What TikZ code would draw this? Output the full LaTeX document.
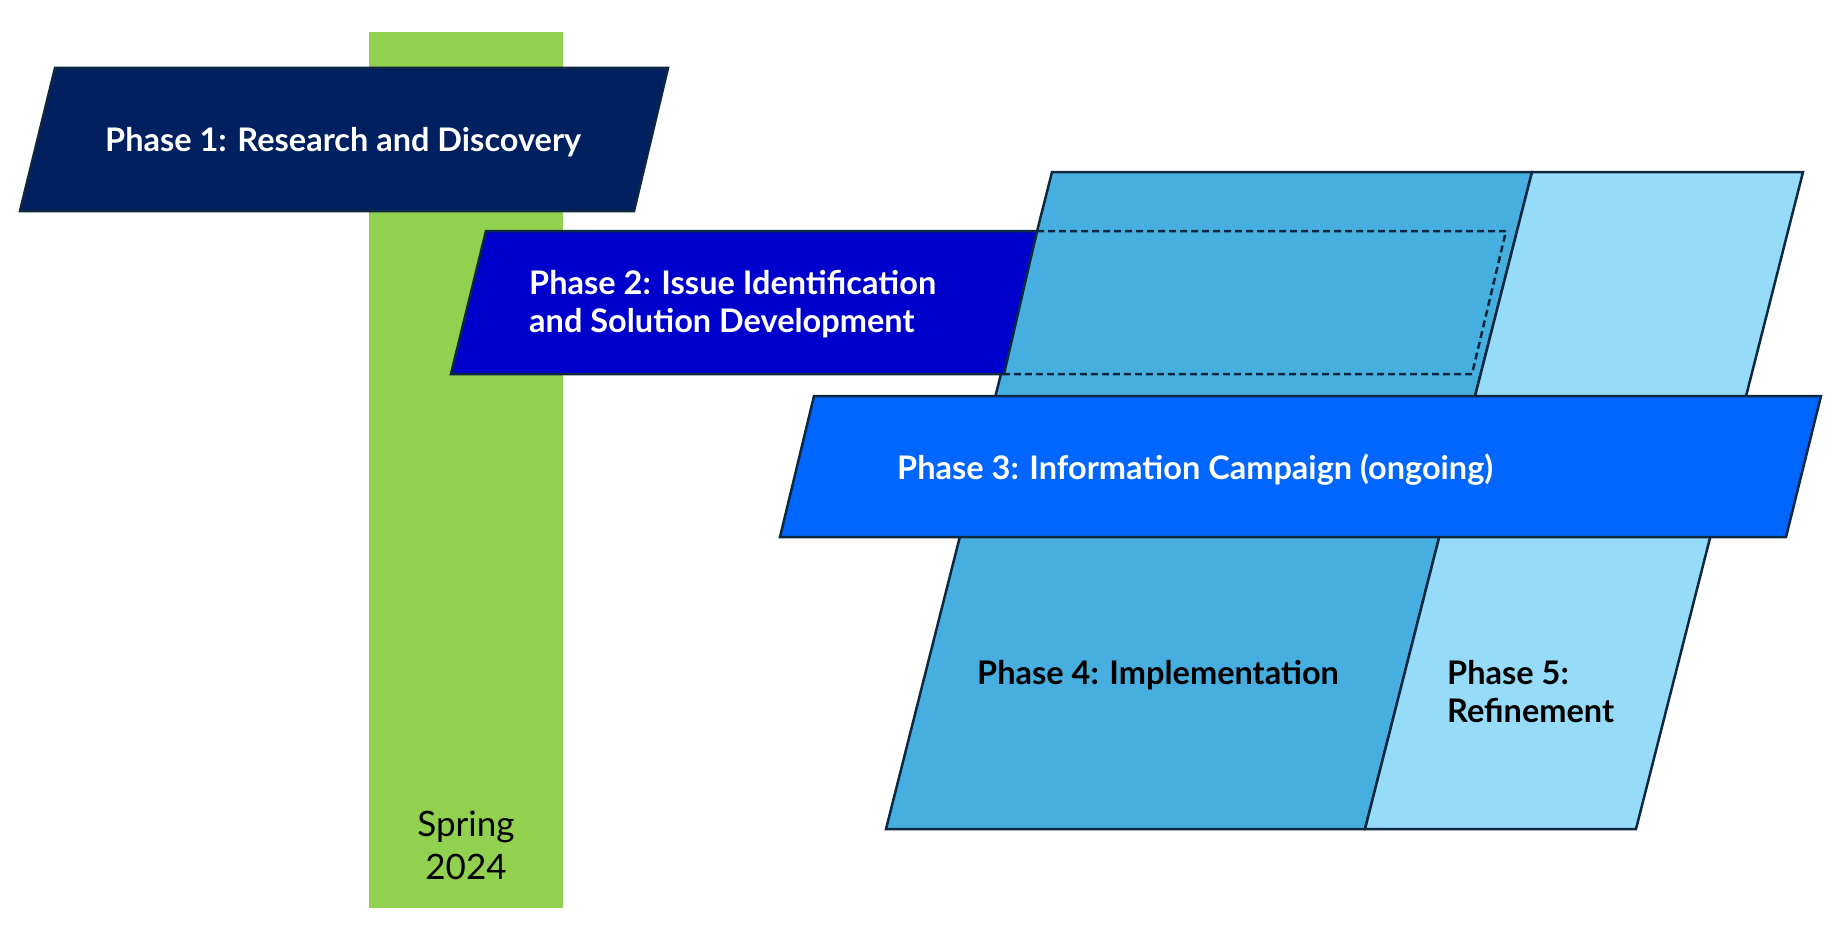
\documentclass[tikz,border=0pt]{standalone}
\usepackage{fontspec}
\setmainfont{Lato}
\begin{document}
\begin{tikzpicture}[x=1pt,y=-1pt,
  outl/.style={draw=edge,line width=2.5pt,line join=miter},
  lbl/.style={font=\bfseries\fontsize{32.5}{38}\selectfont,inner sep=0pt,align=left},
  lblw/.style={lbl,text=white},
  lblk/.style={lbl,text=black}]
\definecolor{edge}{HTML}{0E2841}
\definecolor{navy}{HTML}{002060}
\definecolor{royal}{HTML}{0000CC}
\definecolor{bright}{HTML}{0066FF}
\definecolor{midblue}{HTML}{47AFE0}
\definecolor{paleblue}{HTML}{96DCF8}
\definecolor{springgreen}{HTML}{92D050}
\useasboundingbox (0,0) rectangle (1848,942);
% green time bar
\fill[springgreen] (369,32) rectangle (563,908);
\node[font=\fontsize{35}{43}\selectfont,align=center,inner sep=0pt] (spring) at (466,845) {Spring\\2024};
% phase 4 / 5 block
\path[outl,fill=midblue] (1052,172) -- (1532,172) -- (1365,829) -- (886,829) -- cycle;
\path[outl,fill=paleblue] (1532,172) -- (1803,172) -- (1636,829) -- (1365,829) -- cycle;
% phase 1
\path[outl,fill=navy] (55,68) -- (668,68) -- (634,211) -- (20,211) -- cycle;
\node[lblw,anchor=west] (p1) at (105,142.5) {Phase 1: Research and Discovery};
% phase 2
\path[outl,fill=royal] (486,231) -- (1037,231) -- (1004,374) -- (451,374) -- cycle;
\path[draw=edge,line width=2.5pt,dash pattern=on 7pt off 4pt] (1037,231) -- (1506,231) -- (1472,374) -- (1004,374);
\node[lblw,anchor=west] (p2) at (529,304.5) {Phase 2: Issue Identification\\and Solution Development};
% phase 3
\path[outl,fill=bright] (814,396) -- (1821,396) -- (1786,537) -- (780,537) -- cycle;
\node[lblw,anchor=west] (p3) at (897,469.5) {Phase 3: Information Campaign (ongoing)};
% phase 4 and 5 labels
\node[lblk,anchor=west] (p4) at (977,675.5) {Phase 4: Implementation};
\node[lblk,anchor=west] (p5) at (1447,692) {Phase 5:\\Refinement};
\end{tikzpicture}
\end{document}
